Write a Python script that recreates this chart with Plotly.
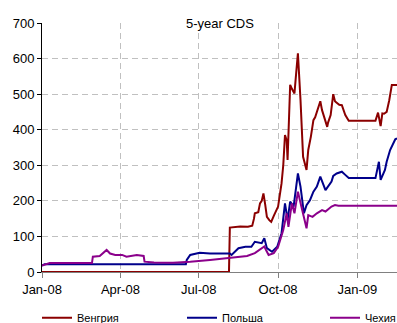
import plotly.graph_objects as go

# 5-year CDS spreads, bp
hun_dates = ["2008-01-01", "2008-08-05", "2008-08-06", "2008-08-18", "2008-08-27", "2008-09-01",
             "2008-09-03", "2008-09-04", "2008-09-08", "2008-09-10", "2008-09-12", "2008-09-14",
             "2008-09-16", "2008-09-18", "2008-09-21", "2008-09-23", "2008-09-26", "2008-09-28",
             "2008-10-01", "2008-10-05", "2008-10-07", "2008-10-09", "2008-10-11", "2008-10-12",
             "2008-10-15", "2008-10-17", "2008-10-20", "2008-10-22", "2008-10-24", "2008-10-27",
             "2008-10-30", "2008-11-03", "2008-11-05", "2008-11-08", "2008-11-11", "2008-11-13",
             "2008-11-17", "2008-11-19", "2008-11-21", "2008-11-24", "2008-11-27", "2008-11-28",
             "2008-12-01", "2008-12-04", "2008-12-06", "2008-12-08", "2008-12-11", "2008-12-14",
             "2008-12-18", "2008-12-22", "2009-01-22", "2009-01-25", "2009-01-28", "2009-01-30",
             "2009-02-01", "2009-02-04", "2009-02-07", "2009-02-10", "2009-02-16"]
hun_values = [0, 0, 125, 128, 127, 130,
              150, 165, 168, 193, 200, 221,
              190, 155, 145, 141, 158, 170,
              184, 249, 300, 385, 370, 315,
              526, 515, 502, 560, 615, 484,
              324, 287, 343, 380, 427, 435,
              470, 480, 455, 430, 408, 420,
              441, 500, 480, 476, 470, 469,
              441, 425, 425, 448, 410, 446,
              445, 450, 483, 526, 526]

pol_dates = ["2008-01-01", "2008-01-04", "2008-06-16", "2008-06-17", "2008-06-21", "2008-07-02",
             "2008-07-14", "2008-07-26", "2008-08-06", "2008-08-08", "2008-08-16", "2008-08-24",
             "2008-08-31", "2008-09-04", "2008-09-12", "2008-09-15", "2008-09-18", "2008-09-24",
             "2008-09-30", "2008-10-05", "2008-10-09", "2008-10-12", "2008-10-15", "2008-10-19",
             "2008-10-24", "2008-10-27", "2008-10-31", "2008-11-03", "2008-11-07", "2008-11-11",
             "2008-11-15", "2008-11-19", "2008-11-23", "2008-11-25", "2008-12-02", "2008-12-04",
             "2008-12-08", "2008-12-14", "2008-12-18", "2008-12-22", "2009-01-22", "2009-01-26",
             "2009-01-28", "2009-02-02", "2009-02-04", "2009-02-08", "2009-02-14", "2009-02-16"]
pol_values = [18, 22, 22, 34, 48, 54,
              52, 51, 52, 48, 67, 71,
              71, 85, 81, 95, 67, 57,
              71, 109, 193, 146, 198, 184,
              277, 240, 165, 188, 202, 226,
              240, 268, 240, 230, 254, 270,
              277, 282, 273, 264, 264, 310,
              259, 287, 310, 343, 373, 376]

cze_dates = ["2008-01-01", "2008-01-10", "2008-02-28", "2008-02-29", "2008-03-08", "2008-03-12",
             "2008-03-16", "2008-03-20", "2008-03-26", "2008-04-03", "2008-04-08", "2008-04-20",
             "2008-04-26", "2008-04-28", "2008-04-29", "2008-05-10", "2008-06-01", "2008-06-17",
             "2008-06-21", "2008-07-14", "2008-08-06", "2008-08-26", "2008-09-04", "2008-09-12",
             "2008-09-15", "2008-09-17", "2008-09-20", "2008-09-26", "2008-10-01", "2008-10-07",
             "2008-10-11", "2008-10-13", "2008-10-17", "2008-10-20", "2008-10-24", "2008-10-28",
             "2008-11-01", "2008-11-03", "2008-11-05", "2008-11-10", "2008-11-15", "2008-11-21",
             "2008-11-25", "2008-12-02", "2008-12-06", "2008-12-10", "2009-02-16"]
cze_values = [18, 25, 25, 43, 45, 54,
              62, 52, 48, 48, 43, 48,
              45, 45, 29, 27, 26, 27,
              29, 34, 40, 45, 53, 67,
              72, 62, 48, 53, 71, 118,
              165, 127, 193, 165, 226, 184,
              146, 123, 160, 155, 165, 174,
              170, 184, 188, 186, 186]

tick_vals = ["2008-01-01", "2008-04-01", "2008-07-01", "2008-10-01", "2009-01-01"]
tick_text = ["Jan-08", "Apr-08", "Jul-08", "Oct-08", "Jan-09"]

font = "Liberation Sans, Arial, sans-serif"

fig = go.Figure()
fig.add_trace(go.Scatter(x=hun_dates, y=hun_values, name="Венгрия", mode="lines",
                         line=dict(color="#8B0000", width=2), legend="legend"))
fig.add_trace(go.Scatter(x=pol_dates, y=pol_values, name="Польша", mode="lines",
                         line=dict(color="#00008B", width=2), legend="legend2"))
fig.add_trace(go.Scatter(x=cze_dates, y=cze_values, name="Чехия", mode="lines",
                         line=dict(color="#8B008B", width=2), legend="legend3"))


def legend_box(x):
    # one-entry legend placed along the bottom edge of the page
    return dict(orientation="h", xref="container", yref="container",
                x=x, xanchor="left", y=0.016, yanchor="middle",
                font=dict(size=11, color="black"), bgcolor="rgba(0,0,0,0)",
                borderwidth=0)


fig.update_layout(
    width=397, height=323,
    margin=dict(l=42, r=0, t=23, b=51, autoexpand=False),
    paper_bgcolor="white", plot_bgcolor="white",
    font=dict(family=font, size=13, color="black"),
    showlegend=True,
    legend=legend_box(37 / 397),
    legend2=legend_box(182 / 397),
    legend3=legend_box(325 / 397),
    xaxis=dict(range=["2008-01-01", "2009-02-16"], tickmode="array",
               tickvals=tick_vals, ticktext=tick_text,
               showgrid=True, gridcolor="#C0C0C0", griddash="6px,4px", gridwidth=1,
               showline=True, linecolor="#808080", linewidth=1,
               ticks="outside", ticklen=5, tickcolor="#808080",
               zeroline=False, layer="below traces"),
    yaxis=dict(range=[0, 700], tickvals=[0, 100, 200, 300, 400, 500, 600, 700],
               showgrid=True, gridcolor="#C0C0C0", griddash="6px,4px", gridwidth=1,
               showline=True, linecolor="black", linewidth=1,
               ticks="outside", ticklen=4, tickcolor="black",
               zeroline=False, layer="below traces"),
)

fig.add_annotation(text="5-year CDS", xref="paper", yref="paper", x=0.5, y=1.0,
                   xanchor="center", yanchor="middle", showarrow=False,
                   font=dict(size=13, color="black"), bgcolor="white", borderpad=0)

fig.write_html("out.html")
